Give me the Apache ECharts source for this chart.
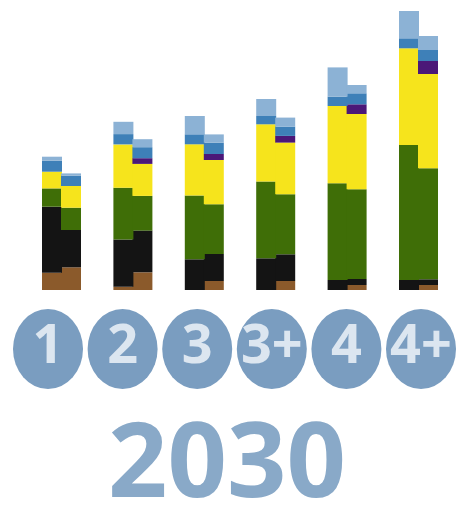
<!DOCTYPE html>
<html>
<head>
<meta charset="utf-8">
<script src="https://cdn.jsdelivr.net/npm/echarts@6/dist/echarts.min.js"></script>
<style>
  html, body { margin: 0; padding: 0; background: #ffffff; }
  #chart { width: 461px; height: 513px; }
</style>
</head>
<body>
<div id="chart"></div>
<script>
// Scenario labels shown in the circles
const scenarios = ['1', '2', '3', '3+', '4', '4+'];
const yearLabel = '2030';

// Left bar of each scenario pair (bottom to top)
const brownA  = [17.3, 3.3, 0, 0, 0, 0];
const blackA  = [66, 47.3, 30.7, 31.7, 10, 10];
const greenA  = [18.3, 51.7, 63.7, 76.7, 96.7, 135];
const yellowA = [16.7, 43.3, 51.3, 57.3, 77.3, 96.7];
const purpleA = [0, 0, 0, 0, 0, 0];
const blueA   = [11, 10.3, 10, 8.3, 9.3, 10];
const lightA  = [4, 12.3, 18.3, 17, 29.3, 27.3];

// Right bar of each scenario pair (bottom to top)
const brownB  = [22.7, 17.7, 9, 9, 5, 5];
const blackB  = [37.3, 41.7, 27, 26.7, 6, 5.7];
const greenB  = [22.3, 34.7, 49.7, 60, 89.7, 111];
const yellowB = [21.7, 32, 44.3, 51.7, 75.3, 94.3];
const purpleB = [0, 5.7, 6, 6.7, 9.7, 13];
const blueB   = [10.3, 11, 11.3, 9.3, 11, 11];
const lightB  = [2.3, 8, 8.3, 9, 8.3, 14];

const layers = [
  { color: '#8b5a2b', a: brownA,  b: brownB },
  { color: '#141414', a: blackA,  b: blackB },
  { color: '#3f6e07', a: greenA,  b: greenB },
  { color: '#f6e41c', a: yellowA, b: yellowB },
  { color: '#4b1878', a: purpleA, b: purpleB },
  { color: '#3e80b8', a: blueA,   b: blueB },
  { color: '#8cb2d5', a: lightA,  b: lightB }
];

const series = [];
layers.forEach(function (l) {
  ['a', 'b'].forEach(function (k) {
    series.push({
      type: 'bar',
      stack: k,
      xAxisIndex: 0,
      yAxisIndex: 0,
      barWidth: 20,
      barGap: '-5%', // slight overlap so the pair reads as one block
      silent: true,
      itemStyle: { color: l.color },
      data: l[k]
    });
  });
});

// Scenario badges under the bars
series.push({
  type: 'scatter',
  xAxisIndex: 1,
  yAxisIndex: 1,
  symbol: 'circle',
  symbolSize: [70, 80],
  silent: true,
  itemStyle: { color: '#7a9dc0', opacity: 1 },
  label: {
    show: true,
    position: 'inside',
    formatter: function (p) { return p.name; },
    fontFamily: 'Open Sans',
    fontWeight: 'bold',
    fontSize: 54,
    color: '#dce6f0',
    offset: [0, -1]
  },
  data: scenarios.map(function (s) { return { name: s, value: [s, 0.5] }; })
});

const chart = echarts.init(document.getElementById('chart'), null, { renderer: 'canvas' });
chart.setOption({
  animation: false,
  title: {
    text: yearLabel,
    left: 103,
    top: 410,
    textStyle: {
      fontFamily: 'Open Sans',
      fontWeight: 'bold',
      fontSize: 104,
      color: '#89a9c8'
    }
  },
  grid: [
    { left: 25.8, right: 6.8, top: 0, bottom: 223 },
    { left: 10.7, right: 2.7, top: 309, height: 80 }
  ],
  xAxis: [
    { type: 'category', gridIndex: 0, data: scenarios, show: false },
    { type: 'category', gridIndex: 1, data: scenarios, show: false }
  ],
  yAxis: [
    { type: 'value', gridIndex: 0, min: 0, max: 290, show: false },
    { type: 'value', gridIndex: 1, min: 0, max: 1, show: false }
  ],
  series: series
});
</script>
</body>
</html>
